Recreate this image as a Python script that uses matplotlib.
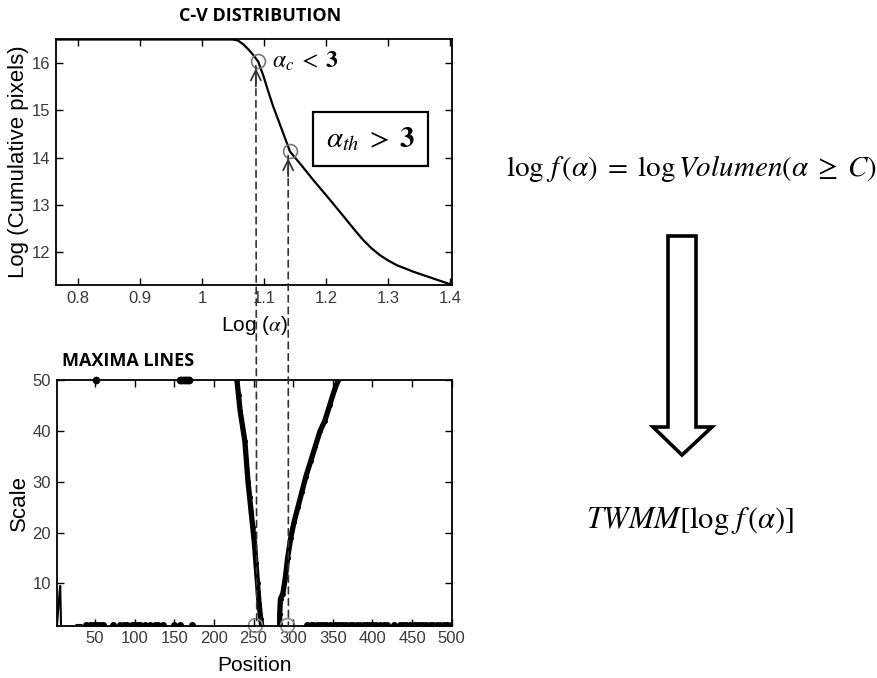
import numpy as np
import matplotlib
matplotlib.use("Agg")
import matplotlib.pyplot as plt
from matplotlib.patches import ConnectionPatch, Polygon

# -------------------------------
# Data
# -------------------------------
cv_log_alpha = [0.765, 0.90, 1.00, 1.05, 1.058, 1.0666, 1.075, 1.083, 1.0908, 1.0989,
                1.107, 1.115, 1.123, 1.131, 1.142, 1.158, 1.1795, 1.2065, 1.2334,
                1.247, 1.260, 1.273, 1.287, 1.300, 1.314, 1.341, 1.368, 1.397, 1.40]
cv_log_pixels = [16.5, 16.5, 16.5, 16.5, 16.48, 16.40, 16.29, 16.17, 16.03, 15.74,
                 15.40, 15.08, 14.80, 14.52, 14.13, 13.88, 13.53, 13.11, 12.68,
                 12.46, 12.26, 12.09, 11.94, 11.83, 11.73, 11.59, 11.47, 11.34, 11.33]

alpha_c = (1.09, 16.05)
alpha_th = (1.142, 14.15)

left_line_pos = [229, 231, 233, 236, 239, 241, 243, 245, 247, 249, 251, 253, 255,
                 257, 259, 260]
left_line_scale = [50, 47, 44, 41, 38, 34, 30, 27, 24, 21, 18, 14, 10, 6, 3, 2]
right_line_pos = [357, 352, 346, 340, 334, 328, 322, 316, 311, 306, 301, 297, 293,
                  290, 287, 284, 283, 283]
right_line_scale = [50, 48, 45, 42, 40, 37, 34, 31, 28, 25, 22, 19, 15, 11, 8, 7, 4, 2]

bottom_dots_pos = [38, 43, 48, 52, 56, 60, 73, 82, 86, 90, 96, 100, 104, 107, 113, 119,
                   125, 130, 136, 149, 157, 172,
                   317, 322, 325, 330, 334, 338, 342, 347, 351, 355, 359, 363, 367, 372,
                   376, 380, 384, 389, 393, 397, 401, 405, 410, 414, 418, 427, 435, 439,
                   443, 447, 452, 456, 460, 464, 468, 473, 477, 481, 485, 490, 494, 499]
top_dots_pos = [51, 157, 159, 161, 163, 165, 167, 169]
edge_spike_pos = [2, 3, 4, 5, 6, 7]
edge_spike_scale = [1.8, 4, 6, 8, 9.5, 2]
crossing_pos = [254, 294]
crossing_circles = [252, 292]

label_font = ["Liberation Sans", "DejaVu Sans"]
tick_grey = "#3a3a3a"

plt.rcParams["mathtext.fontset"] = "stix"
fig = plt.figure(figsize=(8.77, 6.78), dpi=100)

# -------------------------------
# Top: C-V distribution
# -------------------------------
ax1 = fig.add_axes([0.0639, 0.5796, 0.4515, 0.3628])
ax1.plot(cv_log_alpha, cv_log_pixels, color="black", lw=1.6)
ax1.plot(*alpha_c, marker="o", ms=10, mfc="none", mec="#777777", mew=1.2)
ax1.plot(*alpha_th, marker="o", ms=10, mfc="none", mec="#777777", mew=1.2)
ax1.set_xlim(0.765, 1.403)
ax1.set_ylim(11.31, 16.51)
ax1.set_xticks([0.8, 0.9, 1.0, 1.1, 1.2, 1.3, 1.4])
ax1.set_xticklabels(["0.8", "0.9", "1", "1.1", "1.2", "1.3", "1.4"])
ax1.set_yticks([12, 13, 14, 15, 16])
ax1.set_xlabel(r"Log ($\alpha$)", fontsize=15, family=label_font, labelpad=6)
ax1.set_ylabel("Log (Cumulative pixels)", fontsize=16, family=label_font, labelpad=2)

# arrow heads pointing at the two circles
for (xa, ya), xs in [(alpha_c, 1.087), (alpha_th, 1.139)]:
    ax1.annotate("", xy=(xs, ya - 0.1), xytext=(xs, ya - 0.6),
                 arrowprops=dict(arrowstyle="->", lw=1.3, color="#333333",
                                 mutation_scale=18))

ax1.text(1.113, 16.05, r"$\boldsymbol{\alpha_c}\;<\;\mathbf{3}$", fontsize=17,
         va="center", ha="left")
ax1.text(1.271, 14.4, r"$\boldsymbol{\alpha_{th}}\;>\;\mathbf{3}$", fontsize=21,
         va="center", ha="center",
         bbox=dict(boxstyle="square,pad=0.45", fc="white", ec="black", lw=1.6))

# -------------------------------
# Bottom: maxima lines
# -------------------------------
ax2 = fig.add_axes([0.0646, 0.0771, 0.4504, 0.3624])
ax2.plot(left_line_pos, left_line_scale, color="black", lw=3.8, marker=".", ms=5)
ax2.plot(right_line_pos, right_line_scale, color="black", lw=3.8, marker=".", ms=5)
ax2.plot(bottom_dots_pos, [1.9] * len(bottom_dots_pos), ls="none", color="black",
         marker="o", ms=4)
ax2.plot(top_dots_pos, [50] * len(top_dots_pos), ls="none", color="black",
         marker="o", ms=4.5, clip_on=False)
ax2.plot(edge_spike_pos, edge_spike_scale, color="black", lw=1.5)
ax2.plot([25, 36], [2.0, 2.0], color="black", lw=0.8, ls="-.")
for cx in crossing_circles:
    ax2.plot(cx, 1.9, marker="o", ms=10, mfc="none", mec="#888888", mew=1.2,
             clip_on=False)
ax2.set_xlim(1.5, 500)
ax2.set_ylim(1.67, 50)
ax2.set_xticks(np.arange(50, 501, 50))
ax2.set_yticks([10, 20, 30, 40, 50])
ax2.set_xlabel("Position", fontsize=15, family=label_font, labelpad=7)
ax2.set_ylabel("Scale", fontsize=16, family=label_font, labelpad=2)

for ax in (ax1, ax2):
    ax.tick_params(direction="in", top=True, right=True, length=5, width=1,
                   labelsize=12, labelcolor=tick_grey, pad=4)
    for lab in ax.get_xticklabels() + ax.get_yticklabels():
        lab.set_family(label_font)
    for sp in ax.spines.values():
        sp.set_linewidth(1.3)

# dashed guides linking the two panels
for xs, ya, xp in [(1.087, alpha_c[1] - 0.1, crossing_pos[0]),
                   (1.139, alpha_th[1] - 0.1, crossing_pos[1])]:
    con = ConnectionPatch(xyA=(xs, ya), coordsA=ax1.transData,
                          xyB=(xp, 1.67), coordsB=ax2.transData,
                          color="#333333", lw=1.2, ls=(0, (4, 3)))
    fig.add_artist(con)

# panel titles
title_font = ["Open Sans", "DejaVu Sans"]
fig.text(0.297, 0.976, "C-V DISTRIBUTION", fontsize=13, fontweight="bold",
         family=title_font, ha="center", va="center")
fig.text(0.071, 0.467, "MAXIMA LINES", fontsize=13, fontweight="bold",
         family=title_font, ha="left", va="center")

# -------------------------------
# Right-hand side: formula, arrow, transform
# -------------------------------
fig.text(0.7887, 0.752,
         r"$\log\, f\,(\alpha)\;=\;\log Volumen(\alpha\;\geq\;C)$",
         fontsize=21, ha="center", va="center")
fig.text(0.787, 0.231, r"$TWMM[\log\, f\,(\alpha)]$", fontsize=22,
         ha="center", va="center")

W, H = 877.0, 678.0
arrow_px = [(668, 236), (696, 236), (696, 427), (712, 427), (682, 455),
            (653, 427), (668, 427)]
arrow = Polygon([(x / W, 1 - y / H) for x, y in arrow_px], closed=True,
                fc="white", ec="black", lw=2.6, transform=fig.transFigure,
                joinstyle="miter")
fig.add_artist(arrow)

fig.savefig("out.png", dpi=100)
